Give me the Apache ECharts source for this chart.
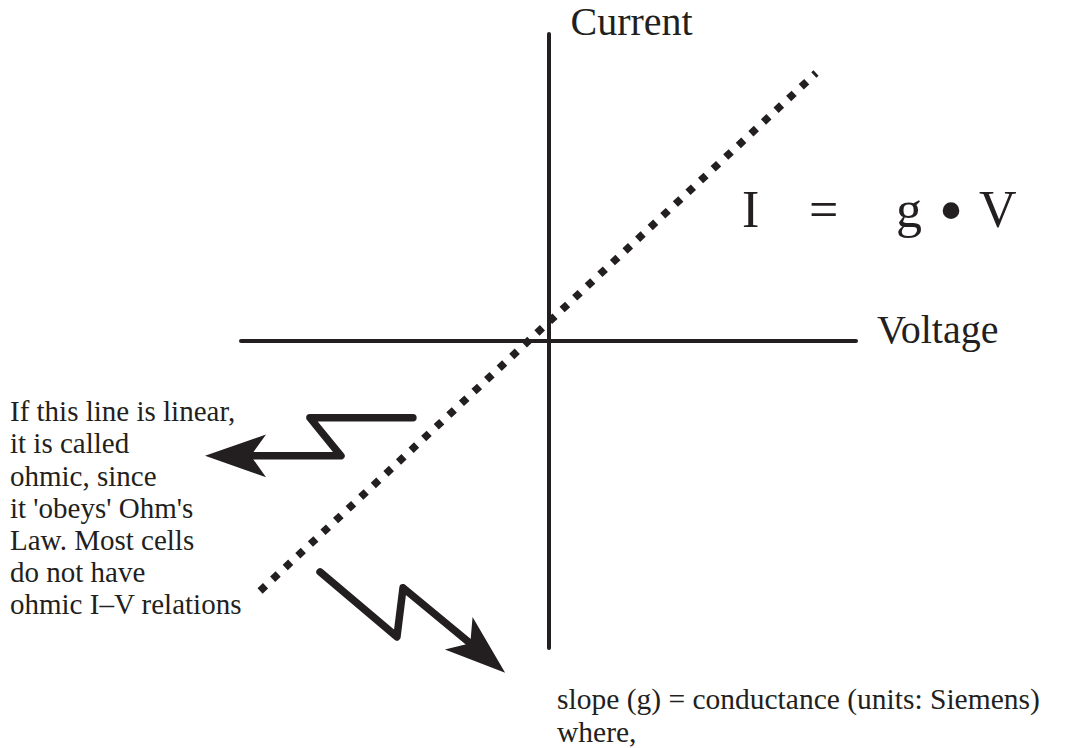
<!DOCTYPE html>
<html>
<head>
<meta charset="utf-8">
<script src="https://cdn.jsdelivr.net/npm/echarts@6/dist/echarts.min.js"></script>
<style>
  html, body { margin: 0; padding: 0; background: #fff; }
  #chart { width: 1067px; height: 748px; }
</style>
</head>
<body>
<div id="chart"></div>
<script>
'use strict'
// both axes are drawn from -10 to 10, crossing at 0
const axisRange = [-10, 10];
const axisNames = ['Voltage', 'Current'];

// the I-V line (dotted), its two ends
const ivLine = [[-9.38, -8.14], [8.70, 8.73]];

// zigzag arrow towards the "ohmic" note, and where its head points
const arrowNote = [[-4.41, -2.50], [-7.76, -2.50], [-6.75, -3.74], [-10.20, -3.74]];
const arrowNoteTip = [-11.17, -3.74];
// zigzag arrow towards the slope note
const arrowSlope = [[-7.43, -7.52], [-4.93, -9.64], [-4.73, -8.04], [-2.16, -10.17]];
const arrowSlopeTip = [-1.41, -10.81];

const noteLines = [
  'If this line is linear,',
  'it is called',
  'ohmic, since',
  "it 'obeys' Ohm's",
  'Law. Most cells',
  'do not have',
  'ohmic I\u2013V relations'
];
const slopeLines = ['slope (g) = conductance (units: Siemens)', 'where,'];
const equation = ['I', '=', 'g', '\u2022', 'V'];

const ink = '#231f20';
const serif = '"Liberation Serif", "DejaVu Serif", serif';

function axis(name, gap, extra) {
  return Object.assign({
    type: 'value',
    min: axisRange[0],
    max: axisRange[1],
    axisLine: { show: true, onZero: true, lineStyle: { color: ink, width: 4 } },
    axisTick: { show: false },
    axisLabel: { show: false },
    splitLine: { show: false },
    name: name,
    nameLocation: 'end',
    nameGap: gap
  }, extra);
}

// equation pieces: x of each piece, the bullet is centred and a bit larger
const eqLeft = [742, 809, 896, 951, 979];

function eqPiece(t, i) {
  if (t === '\u2022') {
    return {
      type: 'text', x: eqLeft[i], y: 210,
      style: { text: t, font: '70px ' + serif, fill: ink, align: 'center', verticalAlign: 'middle' }
    };
  }
  return {
    type: 'text', left: eqLeft[i], top: 183,
    style: { text: t, font: '52px ' + serif, fill: ink }
  };
}

let option = {
  animation: false,
  backgroundColor: '#fff',
  grid: { left: 241, right: 211, top: 34, bottom: 100 },
  xAxis: axis(axisNames[0], 21, {
    nameTextStyle: {
      fontFamily: serif, fontSize: 40, color: ink,
      align: 'left', verticalAlign: 'bottom', lineHeight: 24
    }
  }),
  yAxis: axis(axisNames[1], 13, {
    nameTextStyle: {
      fontFamily: serif, fontSize: 40, color: ink,
      align: 'left', verticalAlign: 'middle', padding: [0, 0, 0, 22]
    }
  }),
  series: [
    {
      type: 'line',
      data: ivLine,
      symbol: 'none',
      clip: false,
      silent: true,
      z: 3,
      lineStyle: { color: ink, width: 7.5, type: [7.5, 9.7], cap: 'butt' }
    },
    {
      type: 'lines',
      coordinateSystem: 'cartesian2d',
      polyline: true,
      clip: false,
      silent: true,
      lineStyle: { color: ink, width: 7.5, opacity: 1, cap: 'round', join: 'round', curveness: 0 },
      data: [{ coords: arrowNote }, { coords: arrowSlope }]
    },
    {
      // heads only: the segment itself is not stroked
      type: 'lines',
      coordinateSystem: 'cartesian2d',
      clip: false,
      silent: true,
      symbol: ['none', 'arrow'],
      symbolSize: [[32, 61], [32, 61]],
      lineStyle: { color: ink, width: 0, opacity: 1, curveness: 0 },
      data: [
        { coords: [arrowNote[arrowNote.length - 1], arrowNoteTip] },
        { coords: [arrowSlope[arrowSlope.length - 1], arrowSlopeTip] }
      ]
    }
  ],
  graphic: [
    {
      type: 'text', left: 10, top: 395,
      style: { text: noteLines.join('\n'), font: '29px ' + serif, fill: ink, lineHeight: 32.2 }
    },
    {
      type: 'text', left: 557, top: 682,
      style: { text: slopeLines.join('\n'), font: '29.5px ' + serif, fill: ink, lineHeight: 33 }
    }
  ].concat(equation.map(eqPiece))
};

let myChart = echarts.init(document.getElementById('chart'), null, { renderer: 'svg' });
myChart.setOption(option);
</script>
</body>
</html>
